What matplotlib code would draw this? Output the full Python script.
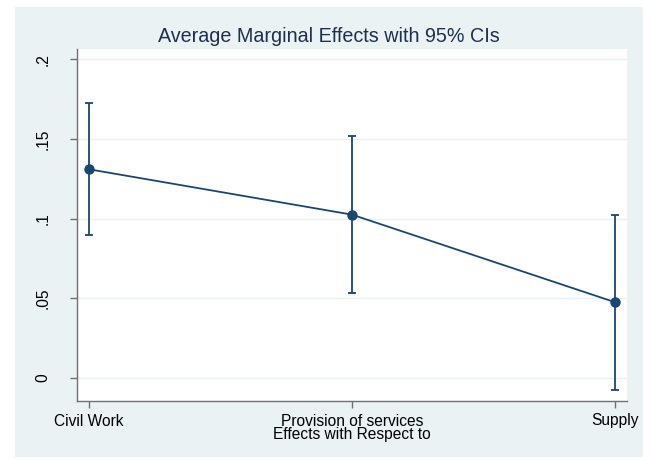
import matplotlib.pyplot as plt
from matplotlib.patches import Rectangle

plt.rcParams['font.family'] = ['Liberation Sans', 'DejaVu Sans']

# margins estimates by category
categories = ["Civil Work", "Provision of services", "Supply"]
margins = [0.131, 0.1025, 0.0475]
ci_low = [0.0895, 0.0535, -0.0075]
ci_high = [0.1725, 0.152, 0.1025]

yticks = [0, 0.05, 0.1, 0.15, 0.2]
ytick_labels = ["0", ".05", ".1", ".15", ".2"]

navy = "#1a476f"
bg = "#eaf2f3"

fig = plt.figure(figsize=(6.53, 4.62), dpi=100)
fig.patch.set_facecolor("white")
fig.add_artist(Rectangle((15 / 653, 5 / 462), 628 / 653, 450 / 462,
                         transform=fig.transFigure, facecolor=bg,
                         edgecolor="none", zorder=-10))

ax = fig.add_axes([77 / 653, 61 / 462, 550 / 653, 352 / 462])
ax.set_facecolor("white")

x = list(range(len(categories)))
err = [[m - lo for m, lo in zip(margins, ci_low)],
       [hi - m for m, hi in zip(margins, ci_high)]]
ax.errorbar(x, margins, yerr=err, fmt="none", ecolor=navy, elinewidth=1.3,
            capsize=2.6, capthick=1.3, zorder=3)
ax.plot(x, margins, color=navy, lw=1.3, marker="o", ms=6.5, zorder=4)

ax.set_xlim(-0.045, 2.045)
ax.set_ylim(-0.0145, 0.2065)
ax.set_yticks(yticks)
ax.set_yticklabels(ytick_labels, rotation=90, va="center")
ax.set_xticks(x)
ax.set_xticklabels(categories)
ax.grid(axis="y", color=bg, lw=1)
ax.set_axisbelow(True)

for side in ["top", "right"]:
    ax.spines[side].set_visible(False)
for side in ["left", "bottom"]:
    ax.spines[side].set_color("#707070")
    ax.spines[side].set_linewidth(1)
ax.tick_params(axis="both", colors="#707070", labelcolor="black",
               labelsize=11.2, length=5, width=1)
ax.tick_params(axis="y", pad=14)
ax.tick_params(axis="x", pad=4)

ax.set_xlabel("Effects with Respect to", fontsize=11.2, labelpad=-1)
fig.text(329 / 653, 1 - 37 / 462, "Average Marginal Effects with 95% CIs",
         fontsize=14.2, color="#1e2f50", ha="center", va="center")

fig.savefig("out.png", dpi=100)
